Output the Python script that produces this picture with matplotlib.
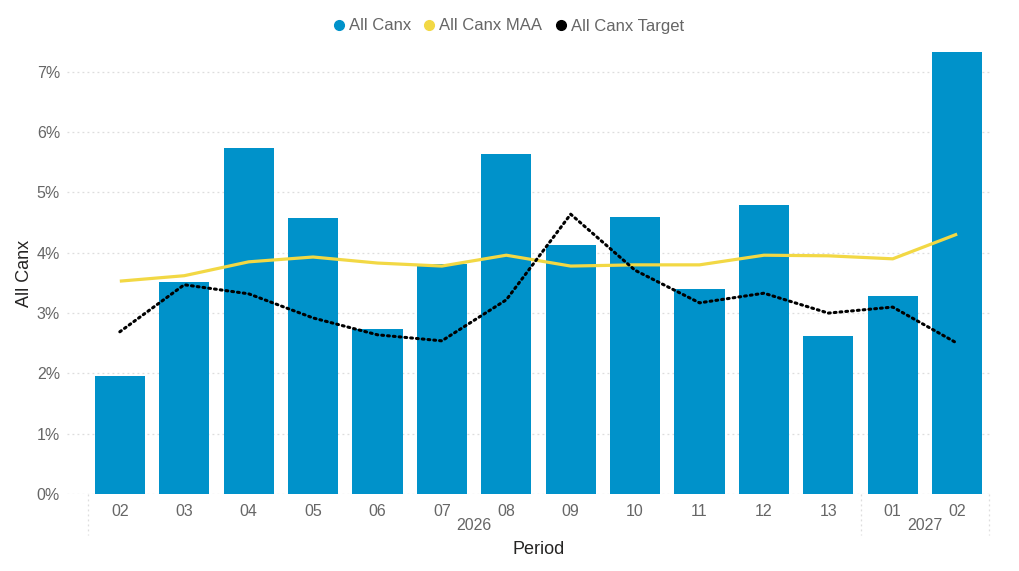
import matplotlib.pyplot as plt
from matplotlib.ticker import FuncFormatter
from matplotlib.lines import Line2D

plt.rcParams['font.family'] = ['Liberation Sans', 'DejaVu Sans']

# data
periods = ["02", "03", "04", "05", "06", "07", "08", "09", "10", "11", "12", "13", "01", "02"]
years = [("2026", 0, 11), ("2027", 12, 13)]
all_canx = [1.96, 3.52, 5.74, 4.58, 2.74, 3.81, 5.64, 4.13, 4.59, 3.40, 4.79, 2.62, 3.28, 7.33]
canx_maa = [3.53, 3.62, 3.85, 3.93, 3.83, 3.78, 3.96, 3.78, 3.80, 3.80, 3.96, 3.95, 3.90, 4.31]
canx_target = [2.69, 3.47, 3.32, 2.92, 2.64, 2.54, 3.22, 4.64, 3.71, 3.17, 3.33, 3.00, 3.10, 2.50]

BLUE = "#0092CA"
YELLOW = "#F2D844"
GREY = "#666666"

fig = plt.figure(figsize=(10.19, 5.71), dpi=100)
ax = fig.add_axes([67 / 1019, 1 - 494 / 571, (990 - 67) / 1019, (494 - 52) / 571])

x = list(range(len(periods)))
ax.bar(x, all_canx, width=0.78, color=BLUE, zorder=2)
ax.plot(x, canx_maa, color=YELLOW, lw=2.3, zorder=3, solid_capstyle='butt')
ax.plot(x, canx_target, color="black", lw=2.2, ls=(0, (0.6, 1.3)),
        dash_capstyle='round', zorder=4)

ax.set_xlim(-0.82, 13.51)
ax.set_ylim(0, 7.33)
ax.set_yticks(range(0, 8))
ax.yaxis.set_major_formatter(FuncFormatter(lambda v, p: f"{v:.0f}%"))
ax.grid(axis='y', color="#dddddd", ls=(0, (1.5, 2.5)), lw=0.9, zorder=0)
for s in ax.spines.values():
    s.set_visible(False)
ax.tick_params(axis='y', length=0, labelsize=11.5, labelcolor=GREY, pad=5)

ax.set_xticks(x)
ax.set_xticklabels(periods)
ax.tick_params(axis='x', length=0, labelsize=11.5, labelcolor=GREY, pad=7)

# year labels and separators
for label, a, b in years:
    ax.text((a + b) / 2, -0.072, label, ha='center', va='center', fontsize=11.5,
            color=GREY, transform=ax.get_xaxis_transform())
for xs in (-0.5, 11.5, 13.5):
    ax.plot([xs, xs], [0, -0.093], transform=ax.get_xaxis_transform(), clip_on=False,
            color="#dddddd", lw=0.9, ls=(0, (1.5, 2.5)))

ax.set_ylabel("All Canx", fontsize=13, color="#252423")
ax.yaxis.set_label_coords(-0.037, 0.5)
fig.text(539 / 1019, 1 - 550 / 571, "Period", ha='center', va='center', fontsize=13, color="#252423")

handles = [Line2D([], [], marker='o', ls='', color=c, markersize=7) for c in (BLUE, YELLOW, "black")]
fig.legend(handles, ["All Canx", "All Canx MAA", "All Canx Target"], loc='center',
           bbox_to_anchor=(507 / 1019, 1 - 26 / 571), ncol=3, frameon=False, fontsize=12,
           labelcolor=GREY, handletextpad=0.1, columnspacing=0.6, handlelength=1.0)

fig.savefig("out.png", dpi=100)
